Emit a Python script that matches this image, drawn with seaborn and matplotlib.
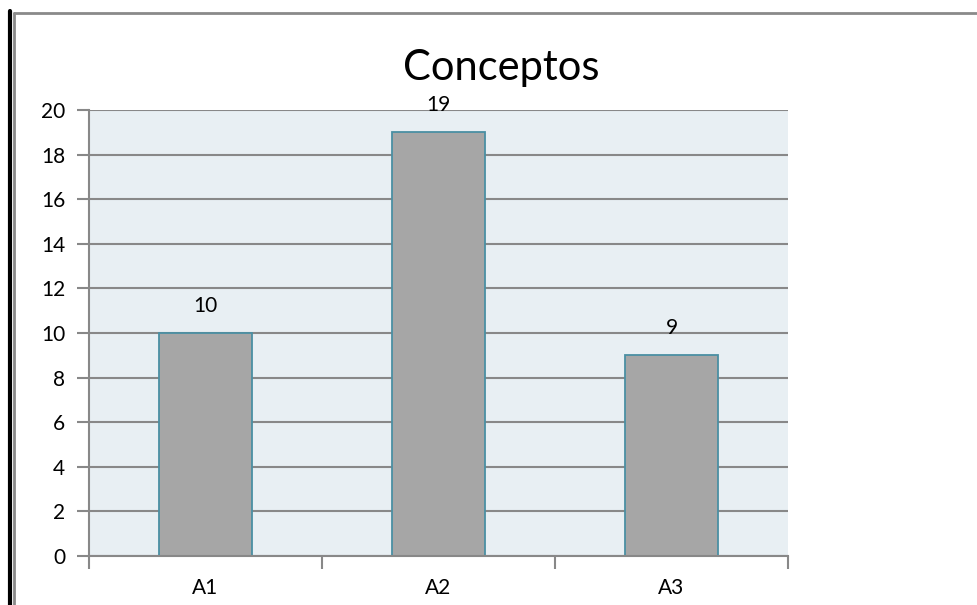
import matplotlib
matplotlib.use("Agg")
import matplotlib.pyplot as plt
from matplotlib.lines import Line2D
import seaborn as sns
import pandas as pd

categories = ["A1", "A2", "A3"]
values = [10, 19, 9]
y_ticks = [0, 2, 4, 6, 8, 10, 12, 14, 16, 18, 20]
title = "Conceptos"

sns.set_theme(style="white")
plt.rcParams["font.family"] = ["Lato", "DejaVu Sans"]

df = pd.DataFrame({"cat": categories, "val": values})

W, H = 977, 605
fig = plt.figure(figsize=(W / 100, H / 100), dpi=100)
ax = fig.add_axes([89 / W, 1 - 556 / H, (788 - 89) / W, (556 - 110) / H])

grid_col = "#888888"
ax.set_facecolor("#E8EFF3")
ax.set_axisbelow(True)

sns.barplot(data=df, x="cat", y="val", ax=ax, color="#A6A6A6",
            edgecolor="#4A8FA3", linewidth=1.3, width=0.4, saturation=1)

ax.set_xlim(-0.5, 2.5)
ax.set_ylim(0, 20)
ax.set_yticks(y_ticks)
ax.yaxis.grid(True, color=grid_col, linewidth=1.5)
ax.xaxis.grid(False)

for s in ["top", "right"]:
    ax.spines[s].set_visible(False)
for s in ["left", "bottom"]:
    ax.spines[s].set_color(grid_col)
    ax.spines[s].set_linewidth(1.5)

ax.set_xlabel("")
ax.set_ylabel("")

# y ticks outside, x ticks at category boundaries
ax.tick_params(axis="y", left=True, length=9, width=1.5, color=grid_col,
               labelsize=15, pad=8, labelcolor="black")
ax.set_xticks([0, 1, 2])
ax.set_xticklabels(categories)
ax.tick_params(axis="x", bottom=False, length=0, labelsize=15, pad=16,
               labelcolor="black")
ax.set_xticks([-0.5, 0.5, 1.5, 2.5], minor=True)
ax.tick_params(axis="x", which="minor", bottom=True, length=9, width=1.5,
               color=grid_col)

for i, v in enumerate(values):
    ax.annotate(f"{v}", (i, v), xytext=(0, 19.5), textcoords="offset points",
                ha="center", va="center", fontsize=15, color="black")

fig.text(501 / W, 1 - 68 / H, title, ha="center", va="center",
         fontsize=30, color="black")

# outer frame lines
fig.add_artist(Line2D([10 / W, 10 / W], [0, 1 - 11 / H], transform=fig.transFigure,
                      color="black", linewidth=3))
fig.add_artist(Line2D([14 / W, 14 / W], [0, 1 - 12.5 / H], transform=fig.transFigure,
                      color="#8A8A8A", linewidth=2))
fig.add_artist(Line2D([14 / W, 1], [1 - 12.5 / H, 1 - 12.5 / H], transform=fig.transFigure,
                      color="#8A8A8A", linewidth=2))

fig.savefig("out.png", dpi=100)
